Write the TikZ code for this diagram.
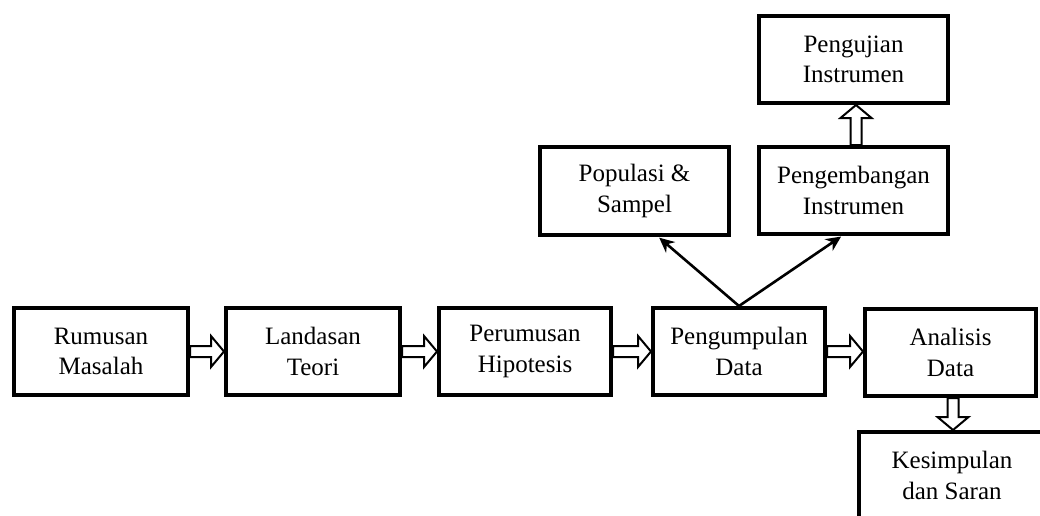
\documentclass[tikz,border=0pt]{standalone}
\usepackage{fontspec}
\setmainfont{Liberation Serif}
\usetikzlibrary{calc,arrows.meta}
\pgfdeclarelayer{bg}
\pgfsetlayers{bg,main}
\tikzset{
  box/.style={draw, line width=4pt, minimum width=174pt, minimum height=87pt,
    align=center, inner sep=0pt, font=\fontsize{25}{30.5}\selectfont},
  hollow/.style={draw, line width=2pt, fill=white, line join=miter,
    to path={let \p1=(\tikztostart), \p2=(\tikztotarget),
      \n1={veclen(\x2-\x1,\y2-\y1)}, \n2={(\x2-\x1)/\n1}, \n3={(\y2-\y1)/\n1} in
      ({\x1-5.5pt*\n3},{\y1+5.5pt*\n2})
      -- ({\x2-13pt*\n2-5.5pt*\n3},{\y2-13pt*\n3+5.5pt*\n2})
      -- ({\x2-13pt*\n2-15.5pt*\n3},{\y2-13pt*\n3+15.5pt*\n2})
      -- (\x2,\y2)
      -- ({\x2-13pt*\n2+15.5pt*\n3},{\y2-13pt*\n3-15.5pt*\n2})
      -- ({\x2-13pt*\n2+5.5pt*\n3},{\y2-13pt*\n3-5.5pt*\n2})
      -- ({\x1+5.5pt*\n3},{\y1-5.5pt*\n2}) -- cycle}},
  thinarrow/.style={draw, line width=2.6pt, -{Stealth[length=15pt,width=14pt]}, shorten >=1pt}
}
\begin{document}
\begin{tikzpicture}[x=1pt,y=-1pt]
\useasboundingbox (0,0) rectangle (1040,515);
\clip (0,0) rectangle (1040,515);
\node[box] (R) at (101,351.5) {Rumusan\\Masalah};
\node[box] (L) at (313,351.5) {Landasan\\Teori};
\node[box, minimum width=172pt] (P) at (525,351.5) {Perumusan\\Hipotesis};
\node[box, minimum width=172pt] (G) at (739,351.5) {Pengumpulan\\Data};
\node[box, minimum width=171pt] (A) at (950.5,352.5) {Analisis\\Data};
\node[box, minimum width=189pt, minimum height=88pt] (S) at (634.5,191) {Populasi \&\\Sampel};
\node[box, minimum width=189pt] (D) at (853.5,190.5) {Pengembangan\\Instrumen};
\node[box, minimum width=189pt] (U) at (853.5,59.5) {Pengujian\\Instrumen};
\node[box, minimum width=186pt] (K) at (952,475.5) {Kesimpulan\\dan Saran};
\coordinate (a1) at ($(A.south)+(2.5,0)$);
\coordinate (d1) at ($(D.north)+(2.5,0)$);
\coordinate (s1) at ($(S.south west)!0.624!(S.south east)$);
\coordinate (d2) at ($(D.south west)!0.44!(D.south east)$);
\begin{pgfonlayer}{bg}
\draw[hollow] (R.east) to (R.east -| L.west);
\draw[hollow] (L.east) to (L.east -| P.west);
\draw[hollow] (P.east) to (P.east -| G.west);
\draw[hollow] (G.east) to (G.east -| A.west);
\draw[hollow] (a1) to (a1 |- K.north);
\draw[hollow] (d1) to (d1 |- U.south);
\draw[thinarrow] (G.north) -- (s1);
\draw[thinarrow] (G.north) -- (d2);
\end{pgfonlayer}
\end{tikzpicture}
\end{document}
